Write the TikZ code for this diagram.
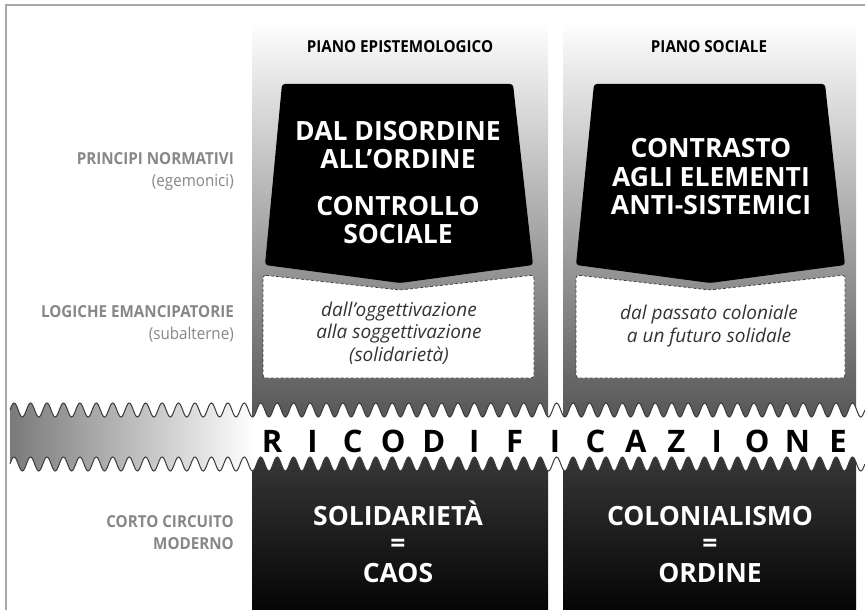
\documentclass[tikz,border=0pt]{standalone}
\usepackage{fontspec}
\setmainfont{Open Sans}
\newfontfamily\condfont{Open Sans}[FakeStretch=0.92]
\definecolor{lblc}{HTML}{878787}
\definecolor{framec}{HTML}{A8A8A8}
\definecolor{wavec}{HTML}{3A3A3A}
\definecolor{colbot}{HTML}{4D4D4D}
\definecolor{lowtop}{HTML}{3C3C3C}
\definecolor{lowbot}{HTML}{050505}
\definecolor{bandleft}{HTML}{7A7A7A}
\definecolor{itxt}{HTML}{333333}
\definecolor{dashc}{HTML}{444444}
\begin{document}
\begin{tikzpicture}[x=1pt,y=-1pt,
  hdr/.style={font=\condfont\bfseries\fontsize{16.5}{18}\selectfont, text=black, inner sep=0pt},
  bigw/.style={font=\bfseries\fontsize{26.5}{28.5}\selectfont, text=white, align=center, inner sep=0pt},
  lowtxt/.style={font=\bfseries\fontsize{26.5}{28}\selectfont, text=white, inner sep=0pt, anchor=base},
  ital/.style={font=\itshape\fontsize{19}{22.5}\selectfont, text=itxt, align=center, inner sep=0pt},
  lblcap/.style={font=\condfont\bfseries\fontsize{16.5}{18}\selectfont, text=lblc, anchor=base east, inner sep=0pt},
  lblsub/.style={font=\condfont\fontsize{16.5}{18}\selectfont, text=lblc, anchor=base east, inner sep=0pt},
  letter/.style={font=\bfseries\fontsize{31}{31}\selectfont, text=black, inner sep=0pt},
  blackshape/.style={fill=black, rounded corners=3pt},
  dashbox/.style={fill=white, draw=dashc, line width=0.8pt, dash pattern=on 3pt off 2pt, rounded corners=3pt},
  wave/.style={draw=wavec, line width=1pt}
]
\useasboundingbox (0,0) rectangle (865,610);
\fill[white] (0,0) rectangle (865,610);
% frame
\draw[framec, line width=2pt] (5.5,610) -- (5.5,5.5) -- (865,5.5);

% columns
\shade[top color=white, bottom color=colbot] (252,20) rectangle (548,440);
\shade[top color=white, bottom color=colbot] (563,20) rectangle (856,440);
\shade[top color=lowtop, bottom color=lowbot] (252,440) rectangle (548,610);
\shade[top color=lowtop, bottom color=lowbot] (563,440) rectangle (856,610);

% headers
\node[hdr] (h1) at (400,47) {PIANO EPISTEMOLOGICO};
\node[hdr] (h2) at (709,47) {PIANO SOCIALE};

% black shapes
\fill[blackshape] (282,84) -- (513,84) -- (533,265) -- (400,283) -- (265,265) -- cycle;
\fill[blackshape] (594,84) -- (825,84) -- (845,265) -- (710,283) -- (576,265) -- cycle;
\node[bigw] (t1) at (398,145) {DAL DISORDINE\\ALL’ORDINE};
\node[bigw] (t2) at (398,220) {CONTROLLO\\SOCIALE};
\node[bigw] (t3) at (711,177) {CONTRASTO\\AGLI ELEMENTI\\ANTI-SISTEMICI};

% dashed boxes
\path[dashbox] (263,275) -- (400,290) -- (534,275) -- (534,378) -- (263,378) -- cycle;
\path[dashbox] (576,275) -- (710,290) -- (845,275) -- (845,378) -- (576,378) -- cycle;
\node[ital] (i1) at (399,333) {dall’oggettivazione\\alla soggettivazione\\(solidarietà)};
\node[ital] (i2) at (709,326) {dal passato coloniale\\a un futuro solidale};

% left labels
\node[lblcap] (l1) at (234,164) {PRINCIPI NORMATIVI};
\node[lblsub] (l1b) at (234,186) {(egemonici)};
\node[lblcap] (l2) at (234,317) {LOGICHE EMANCIPATORIE};
\node[lblsub] (l2b) at (234,339) {(subalterne)};
\node[lblcap] (l3) at (234,527) {CORTO CIRCUITO};
\node[lblcap] (l3b) at (234,549) {MODERNO};

% wavy band
\def\q{4.11}
\begin{scope}
\clip (10,410) \foreach \i in {1,...,52}{ sin ++(\q,-7) cos ++(\q,7) sin ++(\q,7) cos ++(\q,-7) }
  -- ++(0,54) \foreach \i in {1,...,52}{ sin ++(-\q,7) cos ++(-\q,-7) sin ++(-\q,-7) cos ++(-\q,7) } -- cycle;
\fill[white] (0,380) rectangle (865,490);
\shade[left color=bandleft, right color=white] (10,380) rectangle (255,490);
\end{scope}
\draw[wave] (10,410) \foreach \i in {1,...,52}{ sin ++(\q,-7) cos ++(\q,7) sin ++(\q,7) cos ++(\q,-7) };
\draw[wave] (10,464) \foreach \i in {1,...,52}{ sin ++(\q,-7) cos ++(\q,7) sin ++(\q,7) cos ++(\q,-7) };

\foreach \L [count=\k from 0] in {R,I,C,O,D,I,F,I,C,A,Z,I,O,N,E}
  \node[letter] (r\k) at ({272+\k*40.43},441) {\L};

% bottom texts
\node[lowtxt] (b1) at (398,525) {SOLIDARIETÀ};
\node[lowtxt] (b2) at (398,552) {=};
\node[lowtxt] (b3) at (398,582) {CAOS};
\node[lowtxt] (c1) at (710,525) {COLONIALISMO};
\node[lowtxt] (c2) at (710,552) {=};
\node[lowtxt] (c3) at (710,582) {ORDINE};
\end{tikzpicture}
\end{document}
